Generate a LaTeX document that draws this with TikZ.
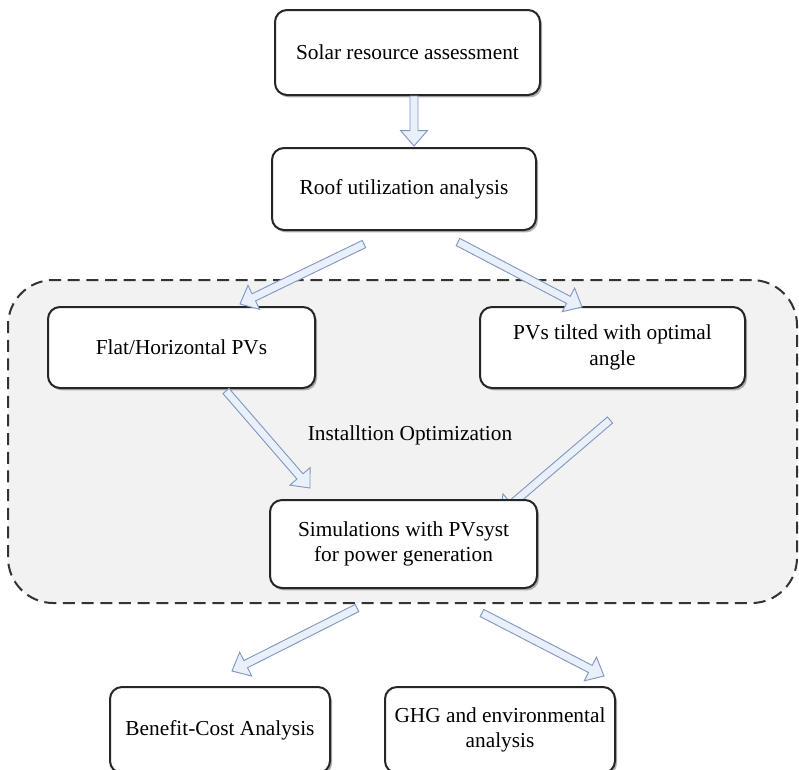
\documentclass[tikz,border=0pt]{standalone}
\usepackage{fontspec}
\setmainfont{Liberation Serif}
\usetikzlibrary{calc,shadows}
\definecolor{regionfill}{HTML}{F2F2F2}
\definecolor{arrfill}{HTML}{EAF0FA}
\definecolor{arrline}{HTML}{8198C2}
\definecolor{dashcol}{HTML}{333333}
\tikzset{
 box/.style={draw=black!85, line width=1.5pt, rounded corners=9pt, fill=white, align=center,
   font=\fontsize{16}{19}\selectfont, inner sep=0pt,
   drop shadow={shadow xshift=1.5pt, shadow yshift=-1.8pt, fill=black!60, opacity=0.5}},
 harrowstyle/.style={draw=arrline, fill=arrfill, line width=0.7pt, line join=miter},
 region/.style={draw=dashcol, fill=regionfill, line width=1.5pt, dash pattern=on 9pt off 5pt, rounded corners=34pt},
 plainlabel/.style={font=\fontsize{16}{19}\selectfont}
}
\newcommand\hollowarrow[2]{%
 \coordinate (hc) at ($(#2)!11.5pt!(#1)$);
 \draw[harrowstyle] ($(#1)!3pt!90:(#2)$) -- ($(hc)!3pt!90:(#2)$) -- ($(hc)!10pt!90:(#2)$) -- (#2)
   -- ($(hc)!10pt!-90:(#2)$) -- ($(hc)!3pt!-90:(#2)$) -- ($(#1)!3pt!-90:(#2)$) -- cycle;}
\begin{document}
\begin{tikzpicture}[x=0.75pt,y=-0.75pt]
\clip (0,0) rectangle (799,769);
\fill[white] (0,0) rectangle (799,769);
\node[region, minimum width=591.75pt, minimum height=242.25pt] (optregion) at (402.5,441.5) {};
\node[plainlabel] (optlabel) at (410,435) {Installtion Optimization};

\node[box, minimum width=198.75pt, minimum height=63.75pt] (solar) at (407.5,52.5) {Solar resource assessment};
\node[box, minimum width=198pt, minimum height=61.5pt] (roof) at (404,189) {Roof utilization analysis};
\node[box, minimum width=200.25pt, minimum height=60.75pt] (flat) at (181.5,347.5) {Flat/Horizontal PVs};
\node[box, minimum width=198.75pt, minimum height=60.75pt] (tilt) at (612.5,347.5) {PVs tilted with optimal\\angle};

\coordinate (a1s) at (414,96);  \coordinate (a1e) at (414,146);
\coordinate (a2s) at (364,244); \coordinate (a2e) at (240,304);
\coordinate (a3s) at (458,242); \coordinate (a3e) at (582,307);
\coordinate (a4s) at (226,391); \coordinate (a4e) at (310,488);
\coordinate (a5s) at (610,420); \coordinate (a5e) at (500,514);
\coordinate (a6s) at (357,608); \coordinate (a6e) at (232,671);
\coordinate (a7s) at (482,613); \coordinate (a7e) at (604,676);

\hollowarrow{a4s}{a4e}
\hollowarrow{a5s}{a5e}
\node[box, minimum width=200.25pt, minimum height=66pt] (sim) at (403.5,544) {Simulations with PVsyst\\for power generation};

\node[box, minimum width=165pt, minimum height=64.5pt] (bca) at (220,730) {Benefit-Cost Analysis};
\node[box, minimum width=172.5pt, minimum height=64.5pt] (ghg) at (500,730) {GHG and environmental\\analysis};

\hollowarrow{a1s}{a1e}
\hollowarrow{a2s}{a2e}
\hollowarrow{a3s}{a3e}
\hollowarrow{a6s}{a6e}
\hollowarrow{a7s}{a7e}
\end{tikzpicture}
\end{document}
